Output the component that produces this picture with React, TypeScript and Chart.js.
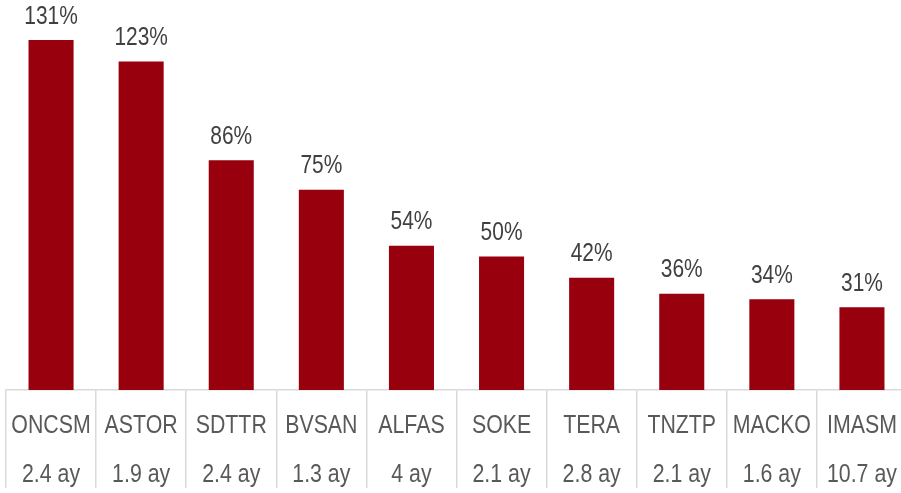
import React, { useEffect, useRef } from "react";
import { Chart, registerables } from "chart.js";

Chart.register(...registerables);

const tickers = ["ONCSM", "ASTOR", "SDTTR", "BVSAN", "ALFAS", "SOKE", "TERA", "TNZTP", "MACKO", "IMASM"];
const periods = ["2.4 ay", "1.9 ay", "2.4 ay", "1.3 ay", "4 ay", "2.1 ay", "2.8 ay", "2.1 ay", "1.6 ay", "10.7 ay"];
const returns = [131, 123, 86, 75, 54, 50, 42, 36, 34, 31];

const FONT = "'Liberation Sans', Arial, sans-serif";
const SX = 0.82; // narrow-font emulation

function drawNarrow(ctx: CanvasRenderingContext2D, text: string, x: number, y: number) {
  ctx.save();
  ctx.translate(x, y);
  ctx.scale(SX, 1);
  ctx.fillText(text, 0, 0);
  ctx.restore();
}

const textPlugin = {
  id: "textPlugin",
  afterDatasetsDraw(chart: any) {
    const ctx = chart.ctx as CanvasRenderingContext2D;
    const meta = chart.getDatasetMeta(0);
    ctx.save();
    ctx.textAlign = "center";
    ctx.textBaseline = "alphabetic";
    ctx.font = `25.5px ${FONT}`;
    ctx.fillStyle = "#404040";
    meta.data.forEach((bar: any, i: number) => {
      drawNarrow(ctx, `${returns[i]}%`, bar.x, bar.y - 16.5);
    });
    const xs = chart.scales.x;
    const top = xs.top;
    ctx.font = `26px ${FONT}`;
    ctx.fillStyle = "#595959";
    (chart.data.labels as string[][]).forEach((lbl, i) => {
      const x = xs.getPixelForTick(i);
      drawNarrow(ctx, lbl[0], x, top + 43);
      drawNarrow(ctx, lbl[1], x, top + 92);
    });
    ctx.restore();
  },
};

export default function App() {
  const ref = useRef<HTMLCanvasElement>(null);
  useEffect(() => {
    if (!ref.current) return;
    const chart = new Chart(ref.current, {
      type: "bar",
      data: {
        labels: tickers.map((t, i) => [t, periods[i]]),
        datasets: [
          {
            data: returns,
            backgroundColor: "#98000E",
            borderWidth: 0,
            categoryPercentage: 1,
            barPercentage: 0.5,
          },
        ],
      },
      options: {
        responsive: false,
        animation: false,
        layout: { padding: { left: 6, right: 13, top: 0, bottom: 5 } },
        plugins: { legend: { display: false }, tooltip: { enabled: false } },
        scales: {
          x: {
            offset: true,
            border: { display: true, color: "#D9D9D9", width: 1.5 },
            grid: {
              offset: true,
              drawOnChartArea: false,
              drawTicks: true,
              tickLength: 98,
              color: "#D9D9D9",
              lineWidth: 1.5,
            },
            ticks: { display: false },
          },
          y: {
            display: false,
            min: 0,
            max: 146,
          },
        },
      },
      plugins: [textPlugin],
    });
    return () => chart.destroy();
  }, []);
  return (
    <div style={{ position: "absolute", left: 0, top: 0, width: 901, height: 493, overflow: "hidden", background: "#fff" }}>
      <canvas ref={ref} width={920} height={493} />
    </div>
  );
}
